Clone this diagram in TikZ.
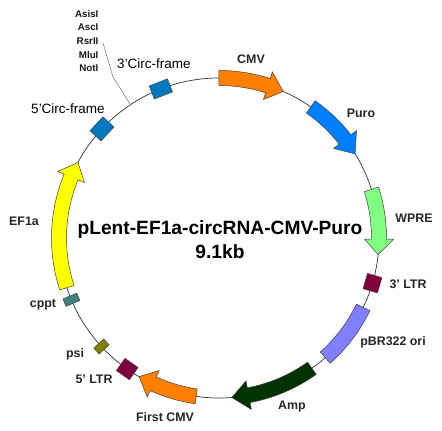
\documentclass[tikz,border=0pt]{standalone}
\usepackage{fontspec}
\setmainfont{Liberation Sans}
\usepackage{xcolor}
\definecolor{feorange}{HTML}{FF8000}
\definecolor{feblue}{HTML}{0080FF}
\definecolor{fegreen}{HTML}{80FF80}
\definecolor{fedark}{HTML}{003300}
\definecolor{feviolet}{HTML}{8080FF}
\definecolor{feyellow}{HTML}{FFFF00}
\definecolor{feltr}{HTML}{800040}
\definecolor{fecppt}{HTML}{408080}
\definecolor{fepsi}{HTML}{808000}
\definecolor{fecirc}{HTML}{0078C0}
\usetikzlibrary{positioning}
\tikzset{
  every picture/.style={line join=miter},
  backbone/.style={black!80, line width=0.7pt},
  leader/.style={black!50, line width=0.6pt},
  feat/.style={draw=black!75, line width=0.5pt},
  block/.style={feat, inner sep=0pt},
  lbl/.style={font=\fontsize{12.4}{14}\selectfont\bfseries, text=black!85},
  biglbl/.style={font=\fontsize{13.5}{16}\selectfont, text=black},
  sitelbl/.style={font=\fontsize{9.8}{11}\selectfont\bfseries, text=black!90, anchor=east},
  ttl/.style={font=\fontsize{19.2}{24}\selectfont\bfseries, align=center},
}
\begin{document}
\begin{tikzpicture}[x=1pt, y=1pt]
\useasboundingbox (-219,-193) rectangle (223,238);
\def\R{160}
\def\W{7.5}
\def\H{14.5}
% ------------------------------------------------------------- backbone
\draw[backbone] (0,0) circle (\R);
\coordinate (sitefoot) at (123.6:\R);
\coordinate (sitebend) at (-106,161);
\coordinate (sitetop) at (-116,195);
\draw[leader] (sitefoot) -- (sitebend) -- (sitetop);
% ------------------------------------------------------------- arrows
\foreach \a/\h/\t/\c in {90/72.2/66.3/feorange, 55/38/31.7/feblue,
  17.7/-0.4/-6/fegreen, -54.5/-79.3/-85.4/fedark,
  -98.2/-114.3/-120/feorange, -161.9/-202.4/-208.2/feyellow}
  \draw[feat, fill=\c] (\a:\R+\W) arc[start angle=\a, end angle=\h, radius=\R+\W]
    -- (\h:\R+\H) -- (\t:\R) -- (\h:\R-\H) -- (\h:\R-\W)
    arc[start angle=\h, end angle=\a, radius=\R-\W] -- cycle;
\draw[feat, fill=feviolet] (-25.7:\R+\W) arc[start angle=-25.7, end angle=-48.4, radius=\R+\W]
  -- (-48.4:\R-\W) arc[start angle=-48.4, end angle=-25.7, radius=\R-\W] -- cycle;
% ------------------------------------------------------------- boxes
\foreach \n/\a/\r/\s/\c in {ltrthree/-16.4/15/16/feltr, ltrfive/-125/15/16/feltr,
  psi/-137.3/13.5/8/fepsi, cppt/-157.3/15/8/fecppt,
  circfive/137/15/19/fecirc, circthree/111.3/14/19.5/fecirc}
  \node[block, fill=\c, rotate=\a, minimum width=\r pt, minimum height=\s pt] (\n) at (\a:\R) {};
% ------------------------------------------------------------- labels
\foreach \n/\x/\y/\t in {lblcircthree/-65/174/3'Circ-frame, lblcircfive/-151/129/5'Circ-frame}
  \node[biglbl] (\n) at (\x,\y) {\t};
\foreach \n/\x/\y/\t in {lblcmv/32/179/CMV, lblpuro/142/125/Puro, lblwpre/195/20/WPRE, lblltrthree/189/-46/3' LTR,
  lblori/174/-104/pBR322 ori, lblamp/73/-169/Amp, lblfirst/-54/-179/First CMV,
  lblltrfive/-125/-141/5' LTR, lblpsi/-144/-116/psi, lblcppt/-176/-67/cppt, lblef/-195/17/EF1a}
  \node[lbl] (\n) at (\x,\y) {\t};
\foreach \n/\y in {AsisI/224, AscI/211, RsrII/197, MluI/183, NotI/170}
  \node[sitelbl] (site\n) at (-117,\y) {\n};
\node[ttl] (title) at (1,-2) {pLent-EF1a-circRNA-CMV-Puro\\9.1kb};
\end{tikzpicture}
\end{document}
